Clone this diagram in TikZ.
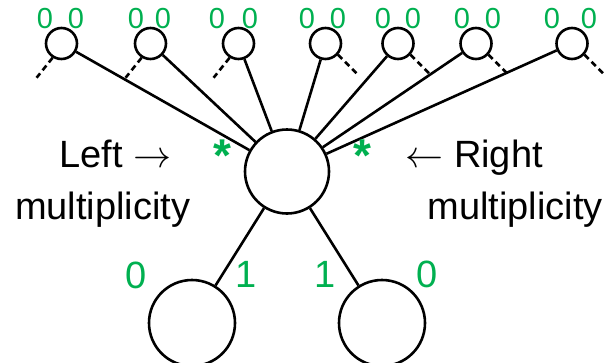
\documentclass[tikz,border=0pt]{standalone}
\usepackage{fix-cm}
\usepackage{fontspec}
\setmainfont{Liberation Sans}
\definecolor{mgreen}{HTML}{00B050}
\tikzset{
  vtx/.style={draw=black, line width=2.6pt, circle, inner sep=0pt, fill=white},
  small/.style={vtx, minimum size=31pt},
  big/.style={vtx, minimum size=84pt},
  edge/.style={line width=2.6pt},
  stub/.style={line width=2.6pt, dash pattern=on 6pt off 4pt},
  mult/.style={text=mgreen, inner sep=0pt, font=\fontsize{29}{34}\selectfont},
  multb/.style={text=mgreen, inner sep=0pt, font=\fontsize{38}{44}\selectfont},
  star/.style={text=mgreen, inner sep=0pt, font=\fontsize{46}{54}\selectfont\bfseries},
  caption/.style={inner sep=0pt, font=\fontsize{38}{46}\selectfont}
}
\begin{document}
\begin{tikzpicture}[x=1pt, y=-1pt]
\useasboundingbox (0,0) rectangle (610,362);

% central vertex and its two lower neighbours
\node[big] (c) at (287,171.5) {};
\node[vtx, minimum size=86pt] (bl) at (192,323) {};
\node[vtx, minimum size=86pt] (br) at (382,323) {};

% upper row of vertices
\node[small] (s1) at (61.5,43.5) {};
\node[small] (s2) at (150.5,43.5) {};
\node[small] (s3) at (238.5,43.5) {};
\node[small] (s4) at (325.5,43.5) {};
\node[small] (s5) at (398,43.5) {};
\node[small] (s6) at (476,43.5) {};
\node[small] (s7) at (572,43.5) {};

% edges to the central vertex
\foreach \s in {s1,s2,s3,s4,s5,s6,s7} \draw[edge] (\s) -- (c);
\draw[edge] (c) -- (bl);
\draw[edge] (c) -- (br);

% dashed stubs to further vertices
\foreach \s in {s1,s2,s3} \draw[stub] (\s.-122) -- ++(-16,20);
\foreach \s in {s4,s5,s6,s7} \draw[stub] (\s.-42) -- ++(19.5,19.5);

% multiplicities on the upper row
\node[mult] (m1a) at (45,18.5) {0};   \node[mult] (m1b) at (76,18.5) {0};
\node[mult] (m2a) at (136,18.5) {0};  \node[mult] (m2b) at (163,18.5) {0};
\node[mult] (m3a) at (217,18.5) {0};  \node[mult] (m3b) at (250,18.5) {0};
\node[mult] (m4a) at (307,18.5) {0};  \node[mult] (m4b) at (338,18.5) {0};
\node[mult] (m5a) at (383,18.5) {0};  \node[mult] (m5b) at (413,18.5) {0};
\node[mult] (m6a) at (462,18.5) {0};  \node[mult] (m6b) at (493,18.5) {0};
\node[mult] (m7a) at (552,18.5) {0};  \node[mult] (m7b) at (589,18.5) {0};

% multiplicities on the lower vertices
\node[multb] (n1) at (136,275.5) {0};
\node[multb] (n2) at (246,274) {1};
\node[multb] (n3) at (325,274) {1};
\node[multb] (n4) at (427,274) {0};

% multiplicities of the central vertex
\node[star] (ls) at (222,156) {*};
\node[star] (rs) at (362,156) {*};

% captions
\node[caption, anchor=base west] (lt) at (59,167) {Left $\rightarrow$};
\node[caption, anchor=base west] (lm) at (15,219) {multiplicity};
\node[caption, anchor=base east] (rt) at (543,167) {$\leftarrow$ Right};
\node[caption, anchor=base east] (rm) at (603,219) {multiplicity};
\end{tikzpicture}
\end{document}
